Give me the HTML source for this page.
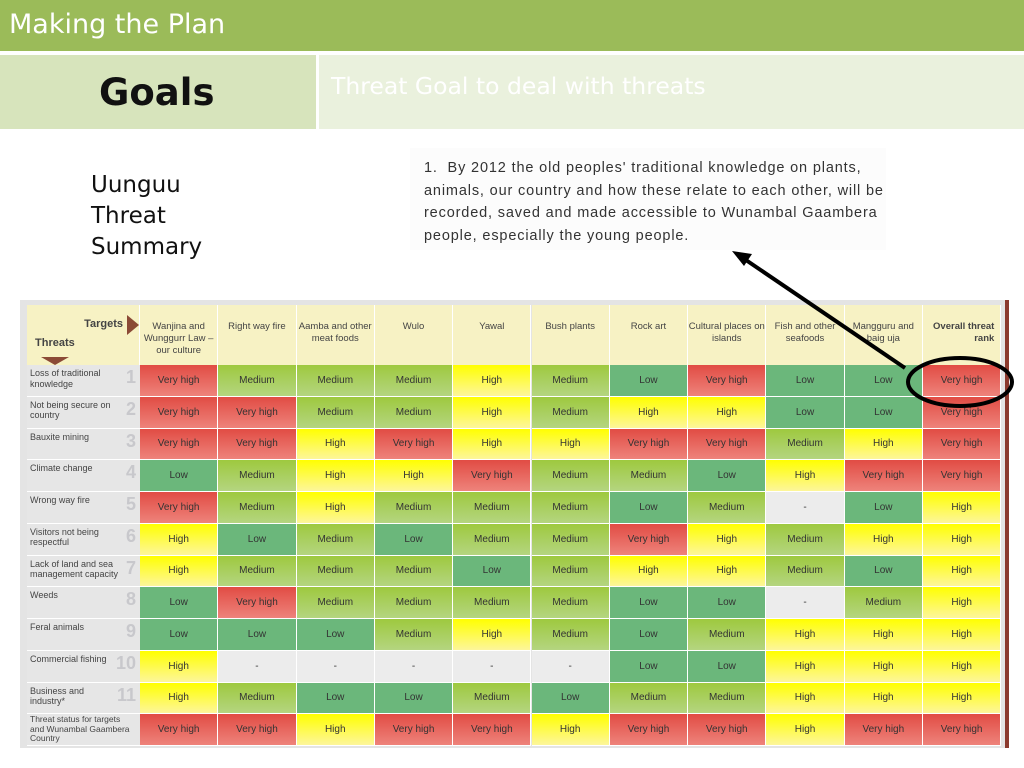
<!DOCTYPE html>
<html><head><meta charset="utf-8"><style>
body{margin:0;width:1024px;height:768px;background:#fff;position:relative;overflow:hidden;font-family:"Liberation Sans",sans-serif}
.a{position:absolute}
.cell{position:absolute;display:flex;align-items:center;justify-content:center;font-size:10px;color:#333;text-align:center;box-sizing:border-box;border-right:1px solid #fff;border-bottom:1px solid #fff}
.hd{position:absolute;font-size:9.5px;color:#444;text-align:center;box-sizing:border-box;border-right:1px solid #fff;padding-top:16px;line-height:12px;background:#f7f2c4}
.th{position:absolute;font-size:9px;color:#444;line-height:10.5px;box-sizing:border-box;padding:3px 0 0 3px;background:#e6e6e6;border-bottom:1px solid #fff;overflow:hidden}
.num{position:absolute;right:4px;font-size:18px;font-weight:bold;color:#c8c8cc}
</style></head><body>
<div class="a" style="left:0;top:0;width:1024px;height:51px;background:#9bbb59"></div>
<div class="a" style="left:9px;top:9px;font-size:27px;color:#fff;font-family:'DejaVu Sans',sans-serif">Making the Plan</div>
<div class="a" style="left:0;top:55px;width:316px;height:74px;background:#d7e4bc"></div>
<div class="a" style="left:99px;top:71px;font-size:37px;font-weight:bold;color:#111;font-family:'DejaVu Sans',sans-serif">Goals</div>
<div class="a" style="left:319px;top:55px;width:705px;height:74px;background:#eaf1dd"></div>
<div class="a" style="left:331px;top:72px;font-size:23.5px;color:#fff;font-family:'DejaVu Sans',sans-serif">Threat Goal to deal with threats</div>
<div class="a" style="left:91px;top:170px;font-size:23px;line-height:31px;color:#111;font-family:'DejaVu Sans',sans-serif">Uunguu<br>Threat<br>Summary</div>
<div class="a" style="left:410px;top:148px;width:476px;height:102px;background:#fcfcfc;font-size:14.5px;line-height:22.5px;color:#333;padding:9px 0 0 14px;box-sizing:border-box;white-space:nowrap;letter-spacing:0.85px;overflow:hidden">1.&nbsp; By 2012 the old peoples' traditional knowledge on plants,<br>animals, our country and how these relate to each other, will be<br>recorded, saved and made accessible to Wunambal Gaambera<br>people, especially the young people.</div>
<div class="a" style="left:20px;top:300px;width:985px;height:448px;background:#e4e4e4"></div>
<div class="a" style="left:1005px;top:300px;width:4px;height:448px;background:#8b3a2e"></div>
<div id="t"></div>
<svg class="a" style="left:0;top:0" width="1024" height="768">
<line x1="740" y1="256" x2="905" y2="368" stroke="#000" stroke-width="4"/>
<polygon points="732,251 752,254 744,266" fill="#000"/>
<ellipse cx="960" cy="382" rx="52" ry="24" fill="none" stroke="#000" stroke-width="4"/>
</svg>
<script>
const targets=["Wanjina and Wunggurr Law – our culture","Right way fire","Aamba and other meat foods","Wulo","Yawal","Bush plants","Rock art","Cultural places on islands","Fish and other seafoods","Mangguru and baig uja","Overall threat rank"];
const threats=["Loss of traditional knowledge","Not being secure on country","Bauxite mining","Climate change","Wrong way fire","Visitors not being respectful","Lack of land and sea management capacity","Weeds","Feral animals","Commercial fishing","Business and industry*","Threat status for targets and Wunambal Gaambera Country"];
const ratings=[
"VH M M M H M L VH L L VH","VH VH M M H M H H L L VH","VH VH H VH H H VH VH M H VH","L M H H VH M M L H VH VH",
"VH M H M M M L M - L H","H L M L M M VH H M H H","H M M M L M H H M L H","L VH M M M M L L - M H",
"L L L M H M L M H H H","H - - - - - L L H H H","H M L L M L M M H H H","VH VH H VH VH H VH VH H VH VH"];
const label={VH:"Very high",H:"High",M:"Medium",L:"Low","-":"-"};
const bg={VH:"linear-gradient(#e14c44,#ee837b)",H:"linear-gradient(#ffff00,#fdf69a)",M:"linear-gradient(#9ec93f,#b4d580)",L:"#6bb77b","-":"#ececec"};
const t=document.getElementById('t');
const x0=140,cw=78.3,y0=365,rh=31.75;
const tl=document.createElement('div');tl.className='hd';


tl.style.cssText='left:27px;top:305px;width:113px;height:60px;padding:0';
tl.innerHTML='<b style="position:absolute;right:16px;top:13px;font-size:11px">Targets</b><b style="position:absolute;left:8px;top:32px;font-size:11px">Threats</b><div style="position:absolute;right:0;top:10px;border-left:12px solid #8b4a36;border-top:10px solid transparent;border-bottom:10px solid transparent"></div><div style="position:absolute;left:14px;bottom:0;border-top:8px solid #8b4a36;border-left:14px solid transparent;border-right:14px solid transparent"></div>';
t.appendChild(tl);
targets.forEach((n,i)=>{const d=document.createElement('div');d.className='hd';


d.style.left=(x0+i*cw)+'px';d.style.top='305px';d.style.width=cw+'px';d.style.height='60px';
if(i==10){d.style.fontWeight='bold';d.style.textAlign='right';d.style.paddingRight='6px';}
d.textContent=n;t.appendChild(d);});
threats.forEach((n,r)=>{const y=y0+r*rh;
const h=document.createElement('div');h.className='th';


h.style.left='27px';h.style.top=y+'px';h.style.width='113px';h.style.height=rh+'px';
if(r==11){h.style.fontSize='8.5px';h.style.lineHeight='9.5px';h.style.paddingTop='1px';}
h.innerHTML='<div style="width:'+(r==11?105:(r==6?100:88))+'px">'+n+'</div>'+(r<11?'<span class="num" style="top:7px">'+(r+1)+'</span>':'');
t.appendChild(h);
ratings[r].split(' ').forEach((k,c)=>{const d=document.createElement('div');d.className='cell';


d.style.left=(x0+c*cw)+'px';d.style.top=y+'px';d.style.width=cw+'px';d.style.height=rh+'px';
d.style.background=bg[k];d.textContent=label[k];t.appendChild(d);});});
</script>
</body></html>
